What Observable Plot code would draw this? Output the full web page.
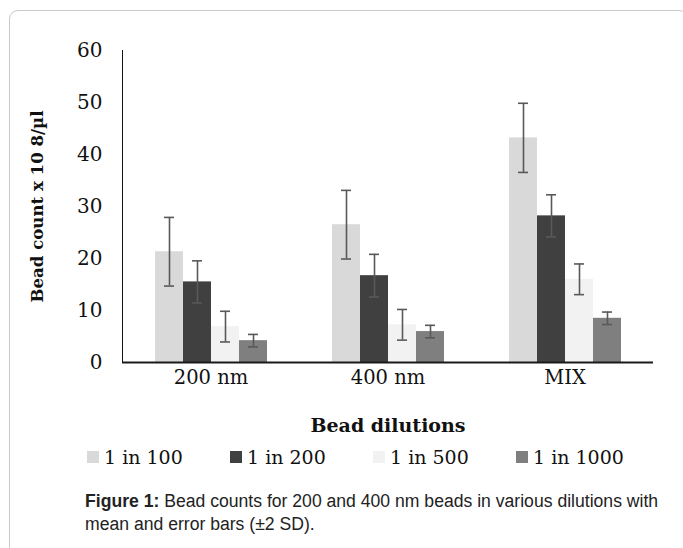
<!DOCTYPE html>
<html><head><meta charset="utf-8">
<script src="https://cdn.jsdelivr.net/npm/d3@7"></script>
<script src="https://cdn.jsdelivr.net/npm/@observablehq/plot@0.6"></script>
<style>
body{margin:0;background:#fff;}
#wrap{position:relative;width:683px;height:548px;overflow:hidden;}
#box{position:absolute;left:9px;top:10px;width:677px;height:600px;border:1px solid #c9c9c9;border-radius:9px;}
#chart{position:absolute;left:0;top:0;}
#legend{position:absolute;left:87px;top:446px;display:flex;font-family:"DejaVu Serif";font-size:19px;color:#111;}
.item{display:flex;align-items:center;width:143px;}
.sw{width:12px;height:12px;margin-right:5px;flex:none;}
#caption{position:absolute;left:85px;top:490px;width:600px;font-family:"Liberation Sans",Arial,sans-serif;font-size:17.6px;line-height:23px;color:#222;}
#caption div{white-space:nowrap;}
g[aria-label="fx-axis tick label"]{font-size:19.5px;}
g[aria-label="y-axis tick label"]{font-size:20px;}
g[aria-label="y-axis label"]{font-size:16.6px;font-weight:bold;}
g[aria-label="fx-axis label"]{font-size:19px;font-weight:bold;}
</style>
</head><body>
<div id="wrap">
<div id="box"></div>
<div id="chart"></div>
<div id="legend"></div>
<div id="caption"><div><b>Figure 1:</b> <span>Bead counts for 200 and 400 nm beads in various dilutions with</span></div><div>mean and error bars (±2 SD).</div></div>
</div>
<script>
const groups = ["200 nm", "400 nm", "MIX"];
const series = ["1 in 100", "1 in 200", "1 in 500", "1 in 1000"];
const colors = ["#d9d9d9", "#404040", "#f2f2f2", "#7f7f7f"];
const yTicks = [0, 10, 20, 30, 40, 50, 60];
// mean values per series, in order of groups
const mean100 = [21.3, 26.5, 43.2];
const mean200 = [15.5, 16.7, 28.2];
const mean500 = [6.9, 7.25, 16.0];
const mean1000 = [4.2, 5.95, 8.5];
// error half-widths (2 SD)
const err100 = [6.6, 6.6, 6.65];
const err200 = [4.05, 4.1, 4.05];
const err500 = [2.95, 2.95, 2.95];
const err1000 = [1.2, 1.2, 1.2];

const means = [mean100, mean200, mean500, mean1000];
const errs = [err100, err200, err500, err1000];
const rows = [];
groups.forEach((g, gi) => series.forEach((s, si) => {
  const v = means[si][gi], e = errs[si][gi];
  rows.push({group: g, series: s, value: v, lo: v - e, hi: v + e});
}));

const errStyle = {stroke: "#595959", strokeWidth: 1.6};
const chart = Plot.plot({
  width: 683, height: 440,
  marginLeft: 122, marginRight: 30, marginTop: 50, marginBottom: 78,
  style: {fontFamily: "DejaVu Serif", fontSize: "18px", color: "#111", background: "transparent"},
  fx: {domain: groups, axis: "bottom", paddingInner: 0, paddingOuter: 0, label: "Bead dilutions", labelAnchor: "center", labelArrow: "none", tickSize: 0, tickPadding: 8, labelOffset: 69},
  x: {domain: series, paddingInner: 0, paddingOuter: 1.105, axis: null},
  y: {domain: [0, 60], ticks: yTicks, tickSize: 0, tickPadding: 20, label: "Bead count x 10 8/µl", labelAnchor: "center", labelArrow: "none", labelOffset: 91, line: true},
  color: {domain: series, range: colors},
  marks: [
    Plot.barY(rows, {fx: "group", x: "series", y: "value", fill: "series"}),
    Plot.ruleY([0], {stroke: "#1a1a1a", strokeWidth: 2}),
    Plot.ruleX(rows, {fx: "group", x: "series", y1: "lo", y2: "hi", ...errStyle}),
    Plot.tickY(rows, {fx: "group", x: "series", y: "hi", insetLeft: 9, insetRight: 9, ...errStyle}),
    Plot.tickY(rows, {fx: "group", x: "series", y: "lo", insetLeft: 9, insetRight: 9, ...errStyle})
  ]
});
document.getElementById("chart").appendChild(chart);

const legend = d3.select("#legend");
series.forEach((s, i) => {
  const it = legend.append("div").attr("class", "item");
  it.append("div").attr("class", "sw").style("background", colors[i]);
  it.append("span").text(s);
});
</script>
</body></html>
